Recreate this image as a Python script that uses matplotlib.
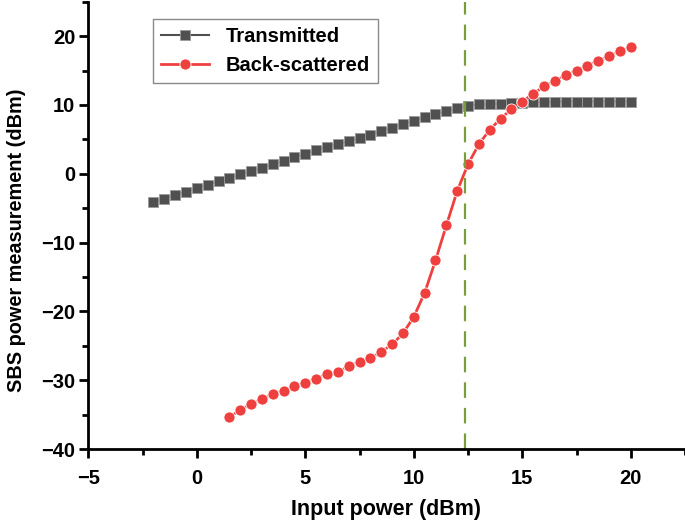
import matplotlib
matplotlib.use("Agg")
import matplotlib.pyplot as plt
import numpy as np
from matplotlib.ticker import MultipleLocator

# input power (dBm)
x_trans = np.arange(-2.0, 20.01, 0.5)
y_trans = [
    -4.1, -3.6, -3.1, -2.6, -2.1, -1.6, -1.1, -0.6, -0.1, 0.4,
    0.9, 1.4, 1.9, 2.4, 2.9, 3.4, 3.9, 4.3, 4.7, 5.2,
    5.7, 6.2, 6.7, 7.2, 7.7, 8.2, 8.7, 9.1, 9.5, 9.9,
    10.1, 10.15, 10.2, 10.3, 10.35, 10.4, 10.45, 10.45, 10.5, 10.5,
    10.5, 10.5, 10.5, 10.5, 10.5,
]
x_back = np.arange(1.5, 20.01, 0.5)
y_back = [
    -35.4, -34.3, -33.5, -32.8, -32.0, -31.5, -30.8, -30.4, -29.8, -29.1,
    -28.8, -28.0, -27.3, -26.8, -25.9, -24.8, -23.2, -20.8, -17.3, -12.6,
    -7.5, -2.5, 1.4, 4.3, 6.4, 8.0, 9.4, 10.5, 11.6, 12.7,
    13.5, 14.3, 15.0, 15.7, 16.4, 17.1, 17.8, 18.4,
]
THRESHOLD = 12.35  # SBS threshold marker

GRAY = "#505050"
RED = "#ef4040"
GREEN = "#7a9c3c"

plt.rcParams["font.family"] = ["Liberation Sans", "DejaVu Sans"]
plt.rcParams["font.weight"] = "bold"

fig = plt.figure(figsize=(6.85, 5.24), dpi=100)
ax = fig.add_axes([0.129, 0.1431, 0.871, 0.8535])

ax.plot(x_trans, y_trans, color=GRAY, lw=1.5, marker="s", ms=6.8,
        mfc=GRAY, mec="#9a9a9a", mew=0.6, label="Transmitted")
ax.plot(x_back, y_back, color=RED, lw=2.0, marker="o", ms=8.0,
        mfc=RED, mec="white", mew=0.6, label="Back-scattered")
ax.axvline(THRESHOLD, color=GREEN, lw=1.6, dashes=(7, 4.5))

ax.set_xlim(-5, 22.5)
ax.set_ylim(-40, 25)
ax.xaxis.set_major_locator(MultipleLocator(5))
ax.xaxis.set_minor_locator(MultipleLocator(2.5))
ax.yaxis.set_major_locator(MultipleLocator(10))
ax.yaxis.set_minor_locator(MultipleLocator(5))
ax.set_xticks([-5, 0, 5, 10, 15, 20])
ax.set_yticks([-40, -30, -20, -10, 0, 10, 20])

for side in ("top", "right"):
    ax.spines[side].set_visible(False)
for side in ("left", "bottom"):
    ax.spines[side].set_linewidth(2.0)
ax.tick_params(which="major", direction="out", length=6.5, width=2.0,
               labelsize=14.5)
ax.tick_params(axis="x", which="major", pad=8)
ax.tick_params(axis="y", which="major", pad=3)
ax.tick_params(which="minor", direction="out", length=4, width=2.0)
for lab in ax.get_xticklabels() + ax.get_yticklabels():
    lab.set_fontweight("bold")

ax.set_xlabel("Input power (dBm)", fontsize=15.5, fontweight="bold")
ax.set_ylabel("SBS power measurement (dBm)", fontsize=14.3,
              fontweight="bold")
ax.xaxis.set_label_coords(0.499, -0.112)
ax.yaxis.set_label_coords(-0.104, 0.467)

leg = ax.legend(loc="upper left", bbox_to_anchor=(0.108, 0.9615),
                borderaxespad=0, fancybox=False, edgecolor="#8a8a8a",
                prop={"size": 14.5, "weight": "bold"}, handlelength=2.4,
                framealpha=1)
leg.get_frame().set_linewidth(1.0)

fig.savefig("out.png", dpi=100)
